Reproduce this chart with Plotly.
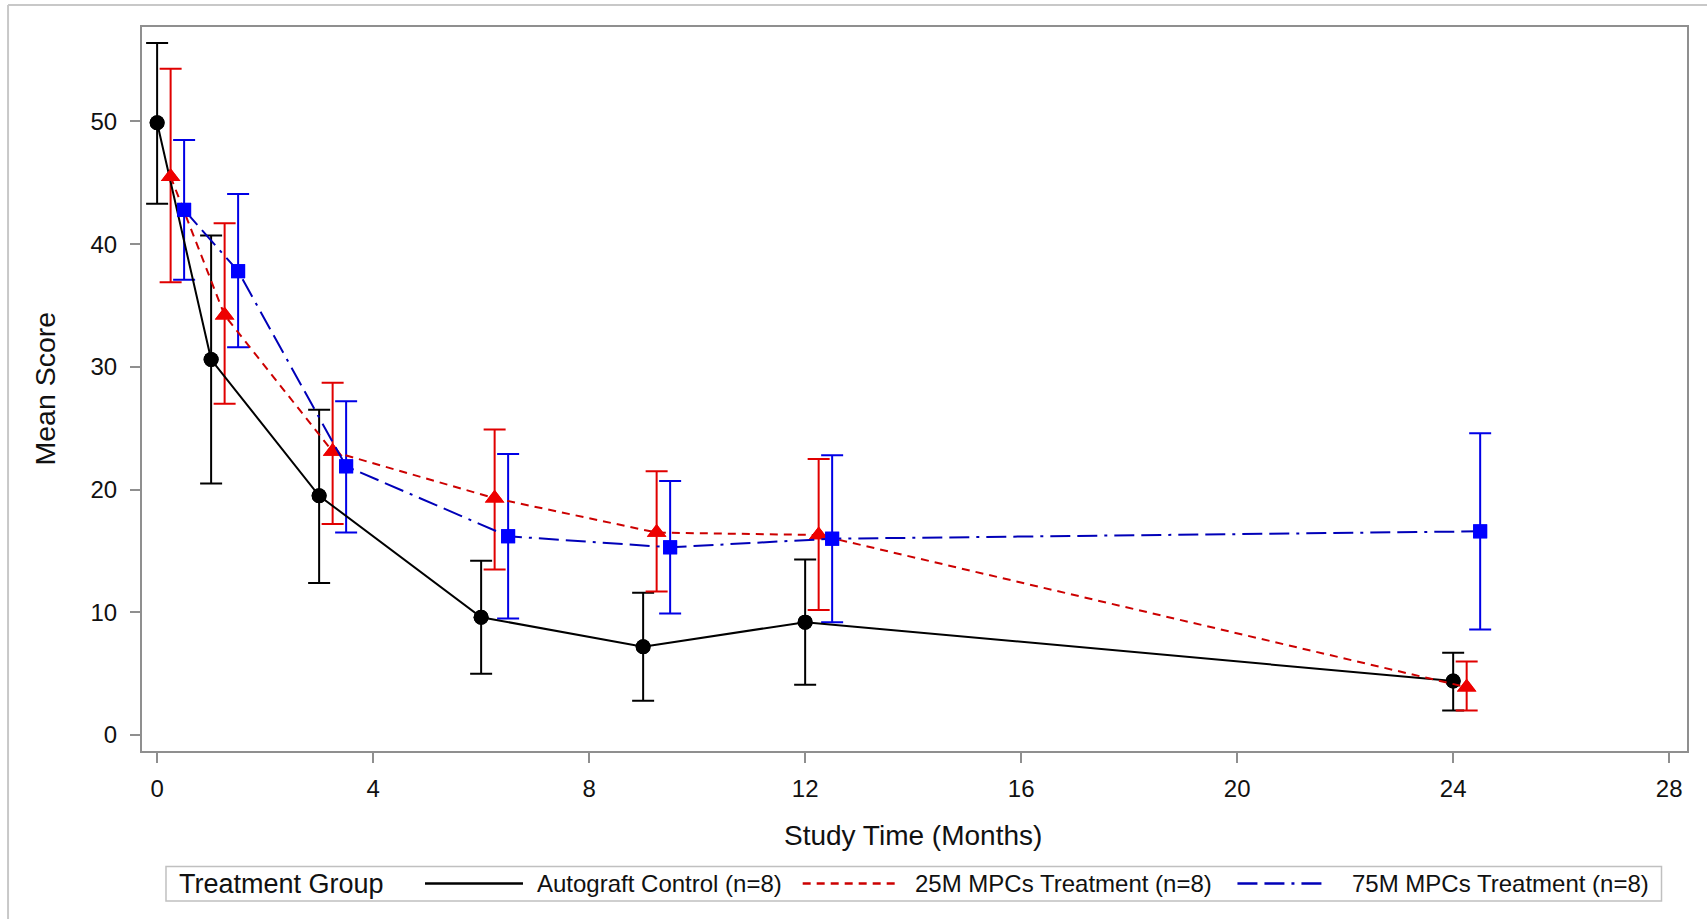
import plotly.graph_objects as go

# ---- data ----
months = [0, 1, 3, 6, 9, 12, 24]
series_names = ["Autograft Control (n=8)", "25M MPCs Treatment (n=8)", "75M MPCs Treatment (n=8)"]

auto_mean = [49.9, 30.6, 19.5, 9.6, 7.2, 9.2, 4.4]
auto_upper = [56.4, 40.7, 26.5, 14.2, 11.6, 14.3, 6.7]
auto_lower = [43.3, 20.5, 12.4, 5.0, 2.8, 4.1, 2.0]

mpc25_mean = [45.5, 34.2, 23.1, 19.3, 16.5, 16.3, 3.9]
mpc25_upper = [54.3, 41.7, 28.7, 24.9, 21.5, 22.5, 6.0]
mpc25_lower = [36.9, 27.0, 17.2, 13.5, 11.7, 10.2, 2.0]

mpc75_mean = [42.8, 37.8, 21.9, 16.2, 15.3, 16.0, 16.6]
mpc75_upper = [48.5, 44.1, 27.2, 22.9, 20.7, 22.8, 24.6]
mpc75_lower = [37.1, 31.6, 16.5, 9.5, 9.9, 9.2, 8.6]

x_ticks = [0, 4, 8, 12, 16, 20, 24, 28]
y_ticks = [0, 10, 20, 30, 40, 50]

# ---- layout constants ----
W, H = 1707, 919
ML, MR, MT, MB = 141.5, 20, 27, 168
PW, PH = W - ML - MR, H - MT - MB
FONT = "Liberation Sans, Arial, sans-serif"


def px(x):
    return (x - ML) / PW


def py(y):
    return 1 - (y - MT) / PH


styles = [
    dict(dodge=0.0, line="#000000", mark="#000000", err="#000000", dash="solid", symbol="circle", size=15),
    dict(dodge=0.25, line="#cc0000", mark="#ee0000", err="#e00000", dash="8px,6px", symbol="triangle-up", size=17),
    dict(dodge=0.5, line="#0000b8", mark="#0000ff", err="#0000e6", dash="20px,7px,20px,7px,3px,7px", symbol="square", size=14),
]
means = [auto_mean, mpc25_mean, mpc75_mean]
uppers = [auto_upper, mpc25_upper, mpc75_upper]
lowers = [auto_lower, mpc25_lower, mpc75_lower]

fig = go.Figure()
for name, st, m, u, lo in zip(series_names, styles, means, uppers, lowers):
    xs = [t + st["dodge"] for t in months]
    fig.add_trace(go.Scatter(
        x=xs, y=m, name=name, mode="markers",
        marker=dict(color=st["mark"], symbol=st["symbol"], size=st["size"], line=dict(width=0)),
        error_y=dict(type="data", symmetric=False,
                     array=[a - b for a, b in zip(u, m)],
                     arrayminus=[b - c for b, c in zip(m, lo)],
                     color=st["err"], thickness=2, width=11),
        showlegend=False,
    ))
for name, st, m in zip(series_names, styles, means):
    xs = [t + st["dodge"] for t in months]
    fig.add_trace(go.Scatter(
        x=xs, y=m, name=name, mode="lines+markers",
        line=dict(color=st["line"], width=2, dash=st["dash"]),
        marker=dict(color=st["mark"], symbol=st["symbol"], size=st["size"], line=dict(width=0)),
        showlegend=False,
    ))

axis_common = dict(
    showline=True, mirror=True, linecolor="#8f8f8f", linewidth=2,
    ticks="outside", ticklen=10, tickwidth=1.5, tickcolor="#8f8f8f",
    showgrid=False, zeroline=False,
    tickfont=dict(family=FONT, size=24, color="#111111"),
)

fig.update_layout(
    width=W, height=H,
    margin=dict(l=ML, r=MR, t=MT, b=MB, pad=0),
    paper_bgcolor="#ffffff", plot_bgcolor="#ffffff",
    xaxis=dict(range=[-0.28, 28.33], tickvals=x_ticks, ticklabelstandoff=5, **axis_common),
    yaxis=dict(range=[-1.3, 57.7], tickvals=y_ticks, ticklabelstandoff=8, **axis_common),
    showlegend=False,
)

shapes = []
# outer frame (left and top edges visible)
shapes.append(dict(type="line", xref="paper", yref="paper", x0=px(7.5), x1=px(W + 5), y0=py(5), y1=py(5),
                   line=dict(color="#c8c8c8", width=2)))
shapes.append(dict(type="line", xref="paper", yref="paper", x0=px(7.5), x1=px(7.5), y0=py(5), y1=py(H + 5),
                   line=dict(color="#c8c8c8", width=2)))
# legend box
shapes.append(dict(type="rect", xref="paper", yref="paper", x0=px(165.5), x1=px(1661.5), y0=py(901), y1=py(866.5),
                   line=dict(color="#c0c0c0", width=1.5), fillcolor="rgba(0,0,0,0)"))
legend_y = 883.5
samples = [(424.6, 522.6), (802.4, 896.0), (1237.3, 1326.7)]
text_x = [534.5, 912.3, 1350.0]
annotations = []
for st, (a, b), tx, name in zip(styles, samples, text_x, series_names):
    shapes.append(dict(type="line", xref="paper", yref="paper", x0=px(a), x1=px(b), y0=py(legend_y), y1=py(legend_y),
                       line=dict(color=st["line"], width=2.5, dash=st["dash"])))
    annotations.append(dict(xref="paper", yref="paper", x=px(tx), y=py(legend_y), text=name, showarrow=False,
                            xanchor="left", yanchor="middle", font=dict(family=FONT, size=24, color="#111111")))
annotations.append(dict(xref="paper", yref="paper", x=px(176.5), y=py(legend_y), text="Treatment Group", showarrow=False,
                        xanchor="left", yanchor="middle", font=dict(family=FONT, size=27, color="#111111")))
# axis titles
annotations.append(dict(xref="paper", yref="paper", x=px(913), y=py(836), text="Study Time (Months)", showarrow=False,
                        xanchor="center", yanchor="middle", font=dict(family=FONT, size=28, color="#111111")))
annotations.append(dict(xref="paper", yref="paper", x=px(44), y=py(389), text="Mean Score", showarrow=False,
                        textangle=-90, xanchor="center", yanchor="middle", font=dict(family=FONT, size=28.5, color="#111111")))

fig.update_layout(shapes=shapes, annotations=annotations)
fig.write_html("out.html")
